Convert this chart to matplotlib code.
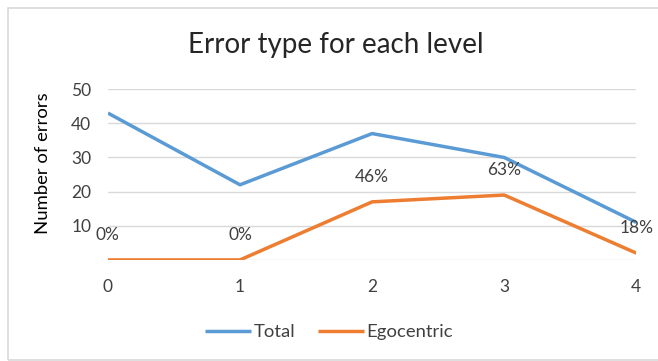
import matplotlib.pyplot as plt
from matplotlib.patches import Rectangle

plt.rcParams['font.family'] = ['Lato', 'DejaVu Sans']

# data
levels = [0, 1, 2, 3, 4]
total = [43, 22, 37, 30, 11]
egocentric = [0, 0, 17, 19, 2]
pct_labels = ['0%', '0%', '46%', '63%', '18%']

blue = '#5B9BD5'
orange = '#ED7D31'
txt = '#404040'

fig = plt.figure(figsize=(6.58, 3.61), dpi=100)
ax = fig.add_axes([0.164, 0.280, 0.803, 0.473])

ax.plot(levels, total, color=blue, lw=2.5, label='Total', solid_capstyle='butt')
ax.plot(levels, egocentric, color=orange, lw=2.5, label='Egocentric', solid_capstyle='butt')

for x, y, s in zip(levels, egocentric, pct_labels):
    ax.annotate(s, (x, y), xytext=(0, 18), textcoords='offset points',
                ha='center', va='center', fontsize=12.5, color=txt)

ax.set_xlim(0, 4)
ax.set_ylim(0, 50)
ax.set_xticks(levels)
ax.set_yticks([10, 20, 30, 40, 50])
ax.yaxis.grid(True, color='#d9d9d9', lw=1)
ax.axhline(0, color='#d9d9d9', lw=1, zorder=0)
ax.set_axisbelow(True)
for sp in ax.spines.values():
    sp.set_visible(False)
ax.tick_params(length=0, labelsize=12.5, colors=txt)
ax.tick_params(axis='y', pad=12)
ax.tick_params(axis='x', pad=14)

ax.set_ylabel('Number of errors', fontsize=13.3, color='black', va='center')
ax.yaxis.set_label_coords(-0.123, 0.567)
fig.text(0.51, 0.875, 'Error type for each level', ha='center', va='center',
         fontsize=20, color='#262626')

fig.legend(loc='center', bbox_to_anchor=(0.5, 0.08), ncol=2, frameon=False,
           fontsize=13.3, handlelength=2.5, handletextpad=0.15, columnspacing=1.2,
           labelcolor=txt)

# outer chart border
fig.patches.append(Rectangle((8 / 658, 1 / 361), 1.2, 1 - 9 / 361,
                             transform=fig.transFigure, fill=False,
                             edgecolor='#d9d9d9', lw=1.2))

fig.savefig('out.png', dpi=100)
